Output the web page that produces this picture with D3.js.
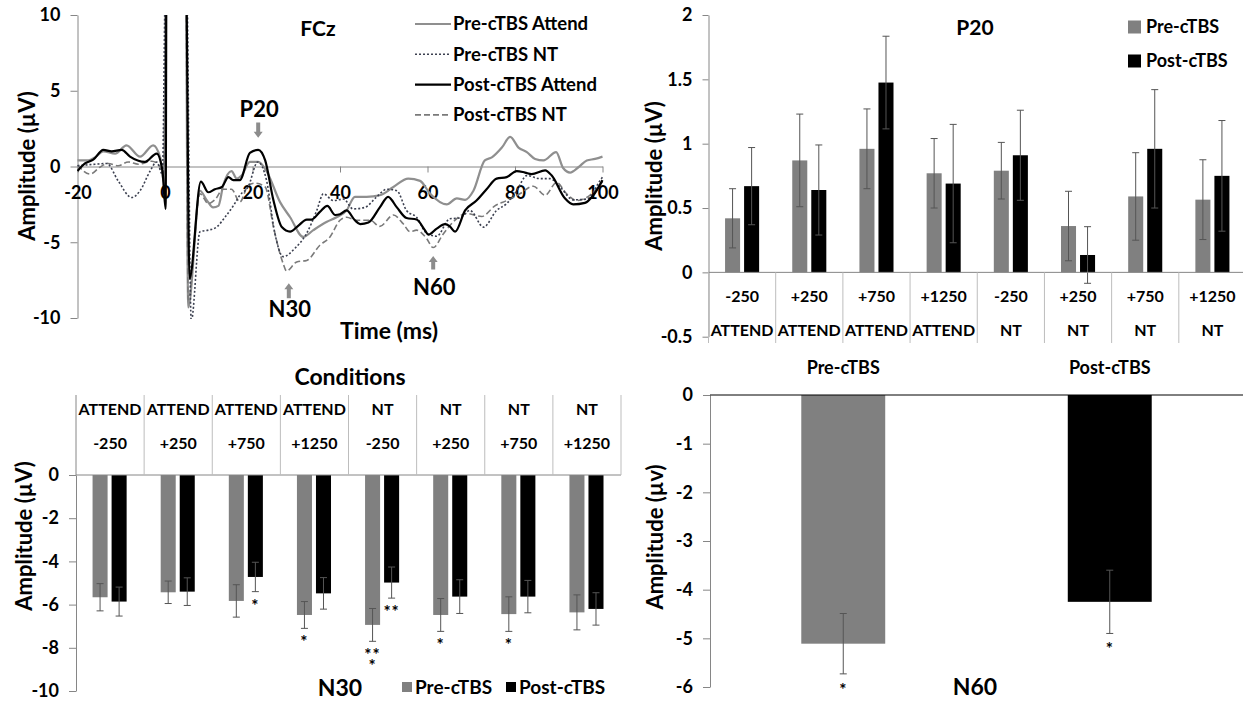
<!DOCTYPE html>
<html lang="en">
<head>
<meta charset="UTF-8">
<title>FCz TEP components pre/post cTBS</title>
<script src="https://cdn.jsdelivr.net/npm/d3@7"></script>
<style>
  body { margin: 0; background: #fff; }
  svg { display: block; font-family: Lato, 'Open Sans', sans-serif; font-weight: bold; }
  .axis path, .axis line { stroke: #868686; }
  .axis text { fill: #000; font-size: 18px; font-family: Lato, sans-serif; font-weight: bold; }
</style>
</head>
<body>
<script>
// ---- FCz waveforms, [time (ms), amplitude (µV)] ----
const preAttend = [[-20,0.4],[-17.5,0.4],[-16,0.6],[-14.1,1.0],[-11.4,0.85],[-8.8,1.4],[-5.7,0.65],[-2.7,1.4],[-1.1,0.6],[-0.2,-1.15],[0.3,15],[4.7,15],[5.3,-9.3],[8,-1.6],[9.5,-2.2],[11,-2.7],[12.2,-2.6],[13.3,-1.25],[15.2,-0.3],[16.4,-0.8],[17.5,-0.6],[19.4,0.3],[21.3,0.3],[23.2,-0.3],[26.3,-2.35],[28.6,-3.35],[31.6,-4.65],[33.9,-4.2],[37,-3.65],[39.2,-3.35],[41.5,-2.9],[43.4,-2.0],[46.1,-2.0],[49.1,-1.9],[52.2,-1.35],[55.6,-0.8],[58.3,-0.95],[60.6,-1.8],[64.4,-2.5],[66.7,-2.1],[68.6,-2.2],[70.5,-1.6],[73.1,0.4],[74.7,0.6],[77,1.25],[78.9,1.95],[80.8,1.25],[82.7,0.95],[84.6,0.5],[86.5,0.4],[89.4,0.95],[91,-0.1],[92.6,-0.4],[94.5,-0.05],[96.4,0.4],[98.3,0.5],[100,0.65]];
const preNT = [[-20,0.05],[-16,0.15],[-13.3,0.2],[-10.7,-0.95],[-7.6,-2.05],[-5.7,-1.6],[-3.4,-0.3],[-1.9,0.3],[-0.6,-0.5],[0.25,15],[4.8,15],[6,-10.2],[8,-4.3],[9.9,-4.2],[11.8,-4.0],[13.7,-3.35],[15.6,-2.6],[17.1,-1.9],[19,-1.35],[21.2,0.3],[23.2,-0.9],[25.1,-4.4],[27,-5.95],[29.7,-5.4],[32.4,-4.4],[34.7,-2.9],[36.2,-1.8],[38.5,-2.25],[40.8,-2.15],[43,-2.8],[45.7,-2.7],[48.4,-2.0],[50.7,-1.5],[53,-1.6],[55.2,-2.9],[57.5,-3.35],[59.8,-4.4],[62.1,-4.6],[65.1,-3.45],[67.4,-3.4],[69.7,-2.9],[72.8,-4.0],[75.8,-2.9],[78.1,-2.45],[80.4,-1.6],[82.7,-0.6],[85.7,-0.8],[88,-0.8],[90.3,-1.35],[93.3,-2.2],[96.4,-2.15],[99.4,-0.95],[100,-0.7]];
const postAttend = [[-20,-0.3],[-18.3,0.2],[-16.4,0.45],[-14.1,1.1],[-12.2,1.0],[-9.9,1.1],[-8,0.65],[-4.6,0.3],[-1.9,0.85],[-0.6,-0.25],[0.15,-2.8],[0.35,15],[4.7,15],[5.6,-7.4],[8.2,-1.0],[9.9,-1.7],[11.4,-1.5],[13,-1.35],[14.5,-0.7],[15.6,-0.9],[17.1,-0.9],[19.4,0.9],[21.3,1.1],[22.9,0.4],[24.8,-2.25],[26.7,-4.0],[28.6,-4.3],[30.5,-3.9],[32.4,-3.5],[33.5,-3.5],[35.4,-3.0],[37.1,-2.6],[38.9,-3.2],[40,-3.15],[41.5,-2.9],[43.4,-3.55],[44.6,-3.8],[46.5,-3.7],[49.1,-2.7],[51,-2.0],[53,-2.7],[55.2,-3.4],[57.5,-3.5],[59.4,-4.2],[60.2,-4.5],[62.1,-4.1],[64,-3.8],[65.1,-3.95],[66.3,-4.3],[68.6,-2.9],[71.2,-2.25],[73.5,-1.5],[75.8,-0.8],[78.1,-0.7],[80.4,-0.3],[82.3,-0.4],[83.8,-0.5],[86.9,-0.25],[88.4,-0.6],[91.4,-2.1],[93.3,-2.5],[96,-2.4],[97.9,-1.9],[100,-0.9]];
const postNT = [[-20,0.1],[-17.1,-0.5],[-14.9,-0.05],[-13,0.2],[-10.7,0.05],[-8.4,0.3],[-6.1,0.15],[-3,0.35],[-1.1,-0.05],[-0.3,-0.5],[0.3,15],[4.7,15],[5.3,-8.8],[8,-1.8],[9.9,-2.45],[11.4,-2.2],[13.3,-1.5],[15.2,-1.5],[17.1,-2.35],[19,-1.25],[20.6,-1.1],[22.9,-1.35],[24.8,-4.0],[27,-6.4],[27.8,-6.9],[30.1,-6.3],[32.4,-6.2],[35.4,-5.2],[37.7,-4.65],[40,-3.55],[41.5,-3.35],[43.8,-3.55],[46.9,-3.55],[49.1,-3.95],[52.2,-3.2],[54.5,-3.8],[56,-4.3],[57.5,-4.2],[59.8,-4.75],[61.3,-5.35],[63.6,-4.45],[65.9,-3.65],[68.9,-3.1],[72.4,-3.3],[75.4,-2.6],[78.1,-2.25],[81.1,-1.8],[84.2,-1.3],[86.9,-1.9],[89.5,-1.05],[91.8,-1.8],[94.1,-2.25],[97.1,-1.9],[100,-1.0]];
const timeTicks = [-20, 0, 20, 40, 60, 80, 100];
const fczTicks = [-10, -5, 0, 5, 10];

// ---- bar charts ----
const conditions = ["-250", "+250", "+750", "+1250", "-250", "+250", "+750", "+1250"];
const condGroups = ["ATTEND", "ATTEND", "ATTEND", "ATTEND", "NT", "NT", "NT", "NT"];

const p20Pre = [0.42, 0.87, 0.96, 0.77, 0.79, 0.36, 0.59, 0.565];
const p20PreErr = [0.23, 0.36, 0.31, 0.27, 0.22, 0.27, 0.34, 0.31];
const p20Post = [0.67, 0.64, 1.475, 0.69, 0.91, 0.135, 0.96, 0.75];
const p20PostErr = [0.30, 0.35, 0.36, 0.46, 0.35, 0.22, 0.46, 0.43];
const p20Ticks = [-0.5, 0, 0.5, 1, 1.5, 2];

const n30Pre = [-5.66, -5.43, -5.83, -6.48, -6.94, -6.48, -6.44, -6.36];
const n30PreErr = [0.63, 0.52, 0.75, 0.62, 0.76, 0.76, 0.80, 0.81];
const n30Post = [-5.86, -5.40, -4.72, -5.48, -4.98, -5.63, -5.63, -6.20];
const n30PostErr = [0.67, 0.64, 0.68, 0.73, 0.72, 0.78, 0.75, 0.75];
const n30PreSig = ["", "", "", "*", "**|*", "*", "*", ""];
const n30PostSig = ["", "", "*", "", "**", "", "", ""];
const n30Ticks = [-10, -8, -6, -4, -2, 0];

const n60Labels = ["Pre-cTBS", "Post-cTBS"];
const n60Values = [-5.11, -4.25];
const n60Err = [0.62, 0.65];
const n60Sig = ["*", "*"];
const n60Ticks = [-6, -5, -4, -3, -2, -1, 0];

const GRAY = "#808080", AXIS = "#868686", ERR = "#555555";

const svg = d3.select("body").append("svg").attr("width", 1243).attr("height", 702);

function label(g, x, y, txt, size, anchor, rot) {
    const t = g.append("text")
        .attr("text-anchor", anchor || "middle")
        .attr("dy", "0.35em")
        .attr("font-size", size + "px")
        .text(txt);
    if (rot) t.attr("transform", `translate(${x},${y}) rotate(-90)`);
    else t.attr("x", x).attr("y", y);
    return t;
}

function styleAxis(g) {
    g.attr("class", "axis");
    g.selectAll("path").attr("stroke", AXIS);
    return g;
}

// asterisk(s) under an error bar; "|" splits lines
function stars(g, cx, yb, s) {
    const t = g.append("text").attr("x", cx).attr("y", yb + 20)
        .attr("text-anchor", "middle").attr("font-size", "17px").attr("fill", "#000")
        .attr("letter-spacing", "1px");
    s.split("|").forEach((part, k) => {
        t.append("tspan").attr("x", cx).attr("dy", k ? 11 : 0).text(part);
    });
}

// ================= FCz waveform =================
const fcz = svg.append("g");
const fx = d3.scaleLinear().domain([-20, 100]).range([77.5, 602.5]);
const fy = d3.scaleLinear().domain([-10, 10]).range([318, 15]);

fcz.append("defs").append("clipPath").attr("id", "fczClip")
    .append("rect").attr("x", 77).attr("y", 15).attr("width", 530).attr("height", 304);

fcz.append("g").attr("transform", "translate(77.5,0)")
    .call(d3.axisLeft(fy).tickValues(fczTicks).tickSize(7).tickSizeOuter(0).tickPadding(10).tickFormat(d => String(d)))
    .call(styleAxis);

fcz.append("g").attr("transform", `translate(0,${fy(0)})`)
    .call(d3.axisBottom(fx).tickValues(timeTicks).tickSize(6).tickSizeOuter(0).tickPadding(14).tickFormat(d => String(d)))
    .call(styleAxis);

const waves = [
    { name: "Pre-cTBS Attend", data: preAttend, color: "#8f8f8f", width: 2.2, dash: null },
    { name: "Pre-cTBS NT", data: preNT, color: "#3c4050", width: 1.6, dash: "2,2" },
    { name: "Post-cTBS Attend", data: postAttend, color: "#000", width: 2.2, dash: null },
    { name: "Post-cTBS NT", data: postNT, color: "#7a7a7a", width: 1.6, dash: "6,3" }
];
const drawOrder = [0, 3, 1, 2];

const line = d3.line().x(d => fx(d[0])).y(d => fy(d[1])).curve(d3.curveMonotoneX);
const plot = fcz.append("g").attr("clip-path", "url(#fczClip)");
drawOrder.forEach(i => {
    const w = waves[i];
    plot.append("path")
        .attr("d", line(w.data))
        .attr("fill", "none")
        .attr("stroke", w.color)
        .attr("stroke-width", w.width)
        .attr("stroke-dasharray", w.dash)
        .attr("stroke-linejoin", "round");
});

// legend
waves.forEach((w, i) => {
    const y = 24 + i * 30.3;
    fcz.append("line").attr("x1", 415).attr("x2", 451).attr("y1", y).attr("y2", y)
        .attr("stroke", w.color).attr("stroke-width", w.width).attr("stroke-dasharray", w.dash);
    label(fcz, 453, y, w.name, 18.5, "start");
});

label(fcz, 318, 29, "FCz", 21);
label(fcz, 389, 331, "Time (ms)", 23);
label(fcz, 27, 166, "Amplitude (µV)", 22, "middle", true);

// peak markers: [name, time, arrow tip, arrow tail, label position] (µV)
const peaks = [["P20", 21.3, 1.9, 2.9, 3.8], ["N30", 28.3, -7.7, -8.7, -9.45], ["N60", 61.3, -5.9, -6.8, -7.95]];
peaks.forEach(p => {
    const x = fx(p[1]), tip = fy(p[2]), tail = fy(p[3]);
    const dir = tip > tail ? 1 : -1;
    const hl = 6 * dir;
    fcz.append("path")
        .attr("d", `M${x - 2},${tail} L${x + 2},${tail} L${x + 2},${tip - hl} L${x + 4.5},${tip - hl} L${x},${tip} L${x - 4.5},${tip - hl} L${x - 2},${tip - hl} Z`)
        .attr("fill", "#8c8c8c");
    label(fcz, x + 1, fy(p[4]), p[0], 22);
});

// ================= P20 bars =================
const p20 = svg.append("g");
const bx = d3.scaleBand().domain(d3.range(8)).range([708.5, 1246]);
const sub = d3.scaleBand().domain(["pre", "post"]).range([0, bx.bandwidth()]).paddingInner(0.21).paddingOuter(0.87);
const by = d3.scaleLinear().domain([-0.5, 2]).range([336.7, 15]);

p20.append("g").attr("transform", "translate(708.5,0)")
    .call(d3.axisLeft(by).tickValues(p20Ticks).tickSize(6).tickSizeOuter(0).tickPadding(10).tickFormat(d => String(d)))
    .call(styleAxis);

function drawBars(g, xs, ys, vals, errs, key, color) {
    vals.forEach((v, i) => {
        const x0 = xs(i) + sub(key);
        const y0 = ys(0), y1 = ys(v);
        g.append("rect")
            .attr("x", x0).attr("width", sub.bandwidth())
            .attr("y", Math.min(y0, y1)).attr("height", Math.abs(y1 - y0))
            .attr("fill", color);
        errorBar(g, x0 + sub.bandwidth() / 2, ys(v + errs[i]), ys(v - errs[i]), 7);
    });
}
function errorBar(g, cx, ya, yb, cap) {
    g.append("line").attr("x1", cx).attr("x2", cx).attr("y1", ya).attr("y2", yb).attr("stroke", ERR).attr("stroke-width", 1);
    [ya, yb].forEach(y => g.append("line").attr("x1", cx - cap / 2).attr("x2", cx + cap / 2)
        .attr("y1", y).attr("y2", y).attr("stroke", ERR).attr("stroke-width", 1));
}

drawBars(p20, bx, by, p20Pre, p20PreErr, "pre", GRAY);
drawBars(p20, bx, by, p20Post, p20PostErr, "post", "#000");

// category axis
p20.append("line").attr("x1", 708.5).attr("x2", 1243).attr("y1", by(0)).attr("y2", by(0)).attr("stroke", AXIS);
d3.range(9).forEach(i => {
    const x = 708.5 + i * bx.step();
    p20.append("line").attr("x1", x).attr("x2", x).attr("y1", by(0)).attr("y2", 343).attr("stroke", "#bdbdbd");
});
conditions.forEach((c, i) => {
    const cx = bx(i) + bx.bandwidth() / 2;
    label(p20, cx, 296, c, 16);
    label(p20, cx, 330, condGroups[i], 16);
});

label(p20, 975, 28, "P20", 21);
label(p20, 654, 176, "Amplitude (µV)", 22, "middle", true);
[["Pre-cTBS", GRAY], ["Post-cTBS", "#000"]].forEach((s, i) => {
    const y = 27 + i * 34;
    p20.append("rect").attr("x", 1128).attr("y", y - 6.5).attr("width", 13).attr("height", 13).attr("fill", s[1]);
    label(p20, 1146, y, s[0], 18, "start");
});

// ================= N30 bars =================
const n30 = svg.append("g");
const nx = d3.scaleBand().domain(d3.range(8)).range([76, 621]);
const ny = d3.scaleLinear().domain([-10, 0]).range([691, 475]);

n30.append("g").attr("transform", "translate(76,0)")
    .call(d3.axisLeft(ny).tickValues(n30Ticks).tickSize(7).tickSizeOuter(0).tickPadding(10).tickFormat(d => String(d)))
    .call(styleAxis);
n30.append("line").attr("x1", 76).attr("x2", 76).attr("y1", 395).attr("y2", ny(0)).attr("stroke", AXIS);

drawBars(n30, nx, ny, n30Pre, n30PreErr, "pre", GRAY);
drawBars(n30, nx, ny, n30Post, n30PostErr, "post", "#000");

n30.append("line").attr("x1", 76).attr("x2", 621).attr("y1", ny(0)).attr("y2", ny(0)).attr("stroke", AXIS);
d3.range(1, 9).forEach(i => {
    const x = 76 + i * nx.step();
    n30.append("line").attr("x1", x).attr("x2", x).attr("y1", 395).attr("y2", ny(0)).attr("stroke", "#bdbdbd");
});
conditions.forEach((c, i) => {
    const cx = nx(i) + nx.bandwidth() / 2;
    label(n30, cx, 409, condGroups[i], 16);
    label(n30, cx, 443, c, 16);
});

function sigMarks(g, xs, ys, vals, errs, sigs, key) {
    sigs.forEach((s, i) => {
        if (!s) return;
        const cx = xs(i) + sub(key) + sub.bandwidth() / 2;
        stars(g, cx, ys(vals[i] - errs[i]), s);
    });
}
sigMarks(n30, nx, ny, n30Pre, n30PreErr, n30PreSig, "pre");
sigMarks(n30, nx, ny, n30Post, n30PostErr, n30PostSig, "post");

label(n30, 350, 377, "Conditions", 23);
label(n30, 24, 536, "Amplitude (µV)", 22, "middle", true);
label(n30, 340, 688, "N30", 23);
[["Pre-cTBS", GRAY, 402], ["Post-cTBS", "#000", 506]].forEach(s => {
    n30.append("rect").attr("x", s[2]).attr("y", 682).attr("width", 10).attr("height", 10).attr("fill", s[1]);
    label(n30, s[2] + 13, 687, s[0], 19, "start");
});

// ================= N60 bars =================
const n60 = svg.append("g");
const mx = d3.scaleBand().domain(n60Labels).range([710, 1243]).paddingInner(0.685).paddingOuter(0.3425);
const my = d3.scaleLinear().domain([-6, 0]).range([687, 395]);

n60.append("g").attr("transform", "translate(710,0)")
    .call(d3.axisLeft(my).tickValues(n60Ticks).tickSize(7).tickSizeOuter(0).tickPadding(10).tickFormat(d => String(d)))
    .call(styleAxis);

n60Labels.forEach((name, i) => {
    const v = n60Values[i];
    n60.append("rect").attr("x", mx(name)).attr("width", mx.bandwidth())
        .attr("y", my(0)).attr("height", my(v) - my(0))
        .attr("fill", i === 0 ? GRAY : "#000");
    const cx = mx(name) + mx.bandwidth() / 2;
    errorBar(n60, cx, my(v + n60Err[i]), my(v - n60Err[i]), 7);
    stars(n60, cx, my(v - n60Err[i]) + 2, n60Sig[i]);
    label(n60, cx, 368, name, 18);
});
n60.append("line").attr("x1", 710).attr("x2", 1243).attr("y1", my(0)).attr("y2", my(0)).attr("stroke", "#000");

label(n60, 975, 687, "N60", 23);
label(n60, 655, 537, "Amplitude (µv)", 22, "middle", true);
</script>
</body>
</html>
